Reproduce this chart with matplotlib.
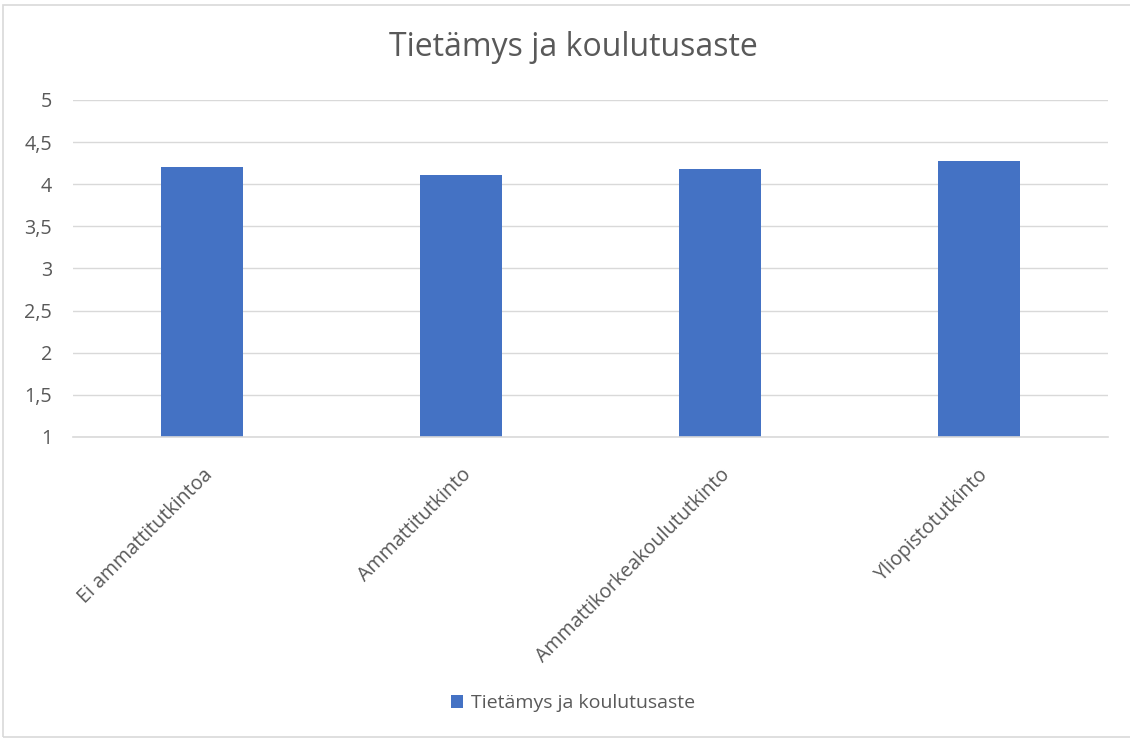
import matplotlib
matplotlib.use("Agg")
import matplotlib.pyplot as plt
from matplotlib.patches import Rectangle
from matplotlib.ticker import FuncFormatter

categories = ["Ei ammattitutkintoa", "Ammattitutkinto",
              "Ammattikorkeakoulututkinto", "Yliopistotutkinto"]
values = [4.20, 4.11, 4.18, 4.27]
series_name = "Tietämys ja koulutusaste"
y_ticks = [1, 1.5, 2, 2.5, 3, 3.5, 4, 4.5, 5]

plt.rcParams["font.family"] = ["Open Sans", "DejaVu Sans"]
text_col = "#595959"
grid_col = "#d9d9d9"
bar_col = "#4472c4"

fig = plt.figure(figsize=(11.3, 7.38), dpi=100)
ax = fig.add_axes([0.0646, 0.4079, 0.9159, 0.4566])

x = range(len(categories))
ax.bar(x, values, width=0.317, color=bar_col, label=series_name, zorder=3, bottom=0)
ax.set_xlim(-0.5, len(categories) - 0.5)
ax.set_ylim(1, 5)
ax.set_yticks(y_ticks)
ax.yaxis.set_major_formatter(FuncFormatter(lambda v, _: f"{v:g}".replace(".", ",")))
ax.grid(axis="y", color=grid_col, linewidth=1, zorder=0)
ax.axhline(1, color=grid_col, linewidth=1.2, zorder=4, clip_on=False)
for s in ax.spines.values():
    s.set_visible(False)
ax.tick_params(length=0, colors=text_col, labelsize=14.2)
ax.tick_params(axis="y", pad=15)
ax.set_xticks(list(x))
ax.set_xticklabels(categories, rotation=45, ha="right", rotation_mode="anchor")
ax.tick_params(axis="x", pad=20)

fig.text(0.507, 0.935, series_name, ha="center", va="center", fontsize=23, color=text_col)
fig.legend(loc="center", bbox_to_anchor=(0.507, 0.047), frameon=False, fontsize=14,
           labelcolor=text_col, handlelength=0.6, handleheight=0.6, handletextpad=0.4)

fig.patches.append(Rectangle((3 / 1130, 0.002), 1.2, 1 - 5 / 738 - 0.002, transform=fig.transFigure,
                             fill=False, edgecolor="#d9d9d9", linewidth=1.2))
fig.savefig("out.png", dpi=100)
